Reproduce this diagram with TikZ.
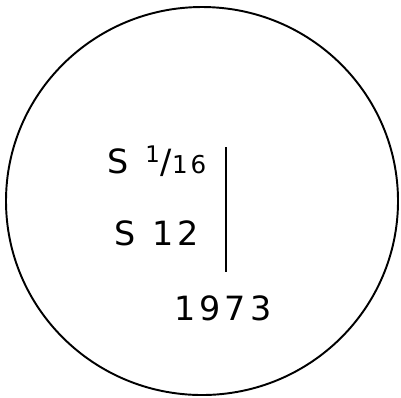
\documentclass[tikz,border=0pt]{standalone}
\usepackage{fontspec}
\setmainfont{DejaVu Sans}
\usetikzlibrary{positioning}

\begin{document}
\begin{tikzpicture}[
    x=0.02cm, y=-0.02cm,
    ring/.style={draw=black, line width=1.1pt},
    label text/.style={font=\fontsize{19}{22}\selectfont\addfontfeature{LetterSpace=12}, inner sep=0pt, anchor=center},
    bar/.style={draw=black, line width=1.1pt}
]
    \useasboundingbox (0,0) rectangle (401,397);

    % Outer ring
    \draw[ring] (202,201) ellipse [x radius=196, y radius=194];

    % Text lines
    \node[label text] (frac)   at (157,161) {S\,\,\,\textsuperscript{\fontsize{13}{14}\selectfont 1}/{\fontsize{14}{16}\selectfont 16}};
    \node[label text] (twelve) at (157,233) {S\,\,\,12};
    \node[label text] (year)   at (223,308) {1973};

    % Vertical stroke
    \coordinate (bartop) at (226,147);
    \coordinate (barbot) at (226,272);
    \draw[bar] (bartop) -- (barbot);

\end{tikzpicture}
\end{document}
